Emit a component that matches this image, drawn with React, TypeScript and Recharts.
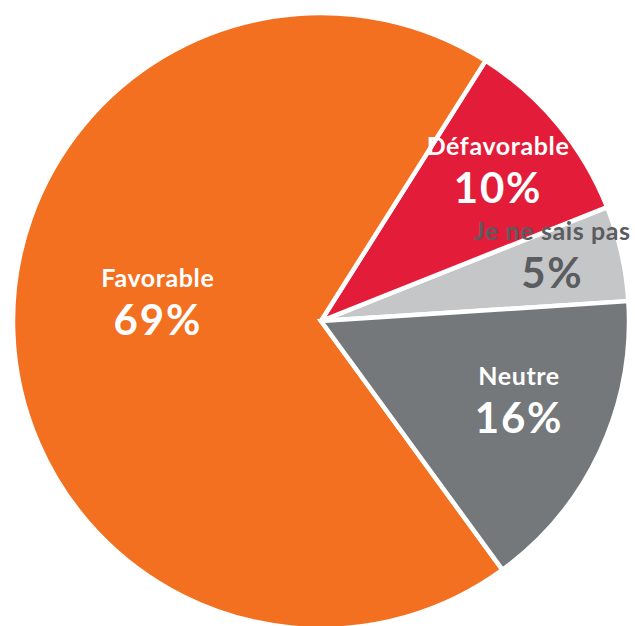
import * as React from "react"
import { PieChart, Pie, Cell } from "recharts"

const categories = ["Je ne sais pas", "Défavorable", "Favorable", "Neutre"]
const values = [5, 10, 69, 16]
const percentLabels = ["5%", "10%", "69%", "16%"]

const colors = ["#C5C6C8", "#E31D39", "#F37021", "#75787B"]
const textColors = ["#5B5C5F", "#FFFFFF", "#FFFFFF", "#FFFFFF"]
// how far out along the radius each label block sits, and a small vertical nudge
const labelRadius = [0.77, 0.747, 0.53, 0.71]
const labelLift = [3, -7, 13, 3]

const data = categories.map((name, i) => ({ name, value: values[i] }))

const RADIAN = Math.PI / 180

const renderLabel = (props: any) => {
  const { cx, cy, midAngle, outerRadius, index } = props
  const r = outerRadius * labelRadius[index]
  const x = cx + r * Math.cos(-midAngle * RADIAN)
  const y = cy + r * Math.sin(-midAngle * RADIAN) - labelLift[index]
  return (
    <g>
      <text
        x={x}
        y={y - 26}
        fill={textColors[index]}
        textAnchor="middle"
        fontFamily="Lato, sans-serif"
        fontWeight={700}
        fontSize={25}
        letterSpacing={0.6}
      >
        {categories[index]}
      </text>
      <text
        x={x}
        y={y + 22}
        fill={textColors[index]}
        textAnchor="middle"
        fontFamily="Lato, sans-serif"
        fontWeight={700}
        fontSize={42}
        letterSpacing={1.8}
      >
        {percentLabels[index]}
      </text>
    </g>
  )
}

export default function App() {
  return (
    <div style={{ position: "absolute", left: 0, top: 0, width: 635, height: 626, background: "#fff" }}>
      <PieChart width={635} height={626} margin={{ top: 0, right: 0, bottom: 0, left: 0 }}>
        <Pie
          data={data}
          dataKey="value"
          nameKey="name"
          cx={321}
          cy={321}
          outerRadius={308}
          startAngle={3.7}
          endAngle={363.7}
          stroke="#FFFFFF"
          strokeWidth={4.5}
          label={renderLabel}
          labelLine={false}
          isAnimationActive={false}
        >
          {data.map((d, i) => (
            <Cell key={d.name} fill={colors[i]} />
          ))}
        </Pie>
      </PieChart>
    </div>
  )
}
